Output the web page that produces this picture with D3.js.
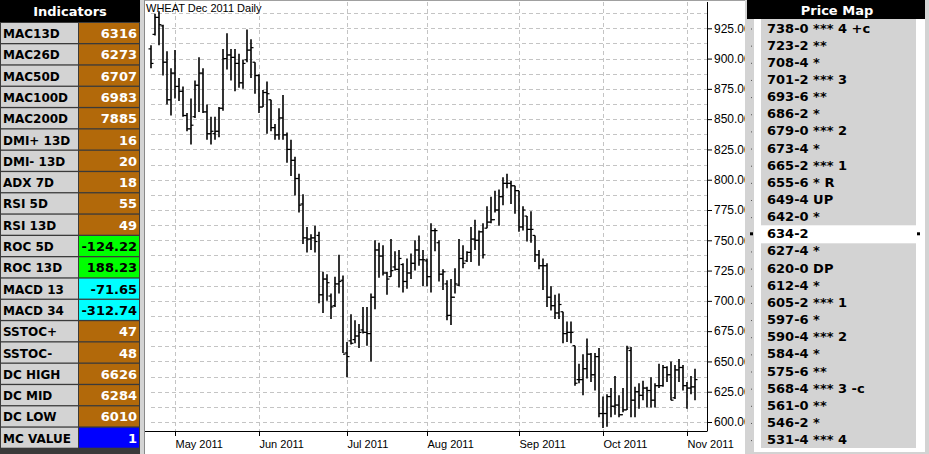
<!DOCTYPE html>
<html lang="en">
<head>
  <meta charset="UTF-8">
  <title>WHEAT Dec 2011 Daily</title>
  <style type="text/css">
    body{
      margin: 0;
      background: #fff;
    }
    svg{
      display: block;
      font-family: "DejaVu Sans", Verdana, sans-serif;
    }
    .ind-label{
      font-size: 12px;
      font-weight: bold;
      fill: #000;
    }
    .ind-value{
      font-size: 13px;
      font-weight: bold;
      text-anchor: end;
    }
    .pm text{
      font-size: 13px;
      font-weight: bold;
      fill: #000;
    }
    .head{
      font-size: 13px;
      font-weight: bold;
      fill: #fff;
      text-anchor: middle;
    }
    .axis text{
      font-family: "Liberation Sans", Arial, sans-serif;
      fill: #000;
    }
    .axis line{
      stroke: #000;
    }
    .grid line{
      stroke: #c4c4c4;
      stroke-dasharray: 4,3;
    }
    .bar line{
      stroke: #000;
    }
  </style>
  <script type="text/javascript" src="https://cdn.jsdelivr.net/npm/d3@7"></script>
</head>
<body>
<script type="text/javascript">
  // daily bars, one per trading day from 21 Apr to 3 Nov 2011
  var highs = [911,937,939,928,906,892,907,884,877,855,867,882,901,892,862,852,852,860,908,921,
               908,908,904,899,924,916,897,887,874,881,866,846,859,870,839,833,819,805,788,761,
               755,762,757,724,722,706,720,738,721,666,689,684,681,695,695,706,750,748,746,724,
               751,741,742,731,735,739,750,754,742,735,764,760,750,726,717,718,727,751,746,741,
               761,767,758,764,778,786,791,792,802,805,799,795,791,778,770,774,754,742,735,731,
               712,705,706,691,683,683,663,648,656,669,657,657,661,621,623,628,638,622,628,663,
               662,629,632,634,629,637,632,648,647,646,650,647,652,647,633,638,644];
  var lows  = [892,919,911,886,862,853,867,865,852,840,829,851,856,855,833,829,833,835,857,891,
               882,873,876,875,897,884,871,855,860,838,840,833,833,833,814,803,787,773,747,740,
               742,740,698,690,700,685,695,706,657,637,664,665,661,673,663,650,693,719,721,705,
               720,725,711,707,710,718,725,729,712,712,707,741,716,709,684,680,706,712,727,732,
               732,742,729,735,760,764,773,762,779,793,780,772,757,758,749,748,732,726,709,695,
               692,685,685,665,666,665,630,632,622,636,633,626,604,595,596,604,606,604,608,610,
               604,604,611,618,612,612,612,628,629,633,618,619,633,626,611,623,618];
  var opens = [908,920,934,927,897,866,888,877,873,853,842,852,878,888,856,838,838,840,859,900,
               903,901,896,880,899,907,897,886,860,872,866,843,837,851,837,825,816,801,780,752,
               751,752,754,705,718,704,696,714,717,657,667,668,671,676,674,673,703,742,737,723,
               720,728,726,730,716,723,731,742,734,733,720,758,748,722,714,688,703,713,735,733,
               740,751,750,757,760,765,767,775,786,797,797,795,791,761,770,759,754,738,729,729,
               703,696,690,691,673,674,663,635,635,644,656,639,654,607,607,621,613,614,606,610,
               659,618,625,622,628,626,618,630,630,645,639,620,643,645,630,628,629];
  var closes = [896,934,928,897,866,888,877,873,853,842,845,878,888,856,838,840,840,859,900,903,
                901,896,880,896,907,909,886,860,872,871,843,837,851,837,825,816,801,779,752,751,
                752,749,705,718,715,695,714,716,656,654,665,671,674,674,673,703,742,737,723,718,
                725,726,735,716,723,731,742,734,734,720,758,758,722,724,688,703,714,735,731,740,
                751,750,757,738,765,767,775,786,797,797,795,791,761,775,759,759,738,729,729,703,
                696,690,697,673,674,674,632,635,644,656,639,654,607,607,621,613,614,606,610,661,
                618,625,622,628,626,618,630,630,645,639,618,643,645,630,628,629,635];

  var holidays = ['2011-04-22', '2011-05-30', '2011-07-04', '2011-09-05'];
  var yTicks = [600, 625, 650, 675, 700, 725, 750, 775, 800, 825, 850, 875, 900, 925];

  var indLabels = ['MAC13D','MAC26D','MAC50D','MAC100D','MAC200D','DMI+ 13D','DMI- 13D','ADX 7D',
                   'RSI 5D','RSI 13D','ROC 5D','ROC 13D','MACD 13','MACD 34','SSTOC+','SSTOC-',
                   'DC HIGH','DC MID','DC LOW','MC VALUE'];
  var indValues = ['6316','6273','6707','6983','7885','16','20','18','55','49','-124.22','188.23',
                   '-71.65','-312.74','47','48','6626','6284','6010','1'];
  var indKinds  = ['avg','avg','avg','avg','avg','avg','avg','avg','avg','avg','roc','roc',
                   'macd','macd','avg','avg','avg','avg','avg','mc'];

  var priceMap = ['738-0 *** 4 +c','723-2 **','708-4 *','701-2 *** 3','693-6 **','686-2 *',
                  '679-0 *** 2','673-4 *','665-2 *** 1','655-6 * R','649-4 UP','642-0 *','634-2',
                  '627-4 *','620-0 DP','612-4 *','605-2 *** 1','597-6 *','590-4 *** 2','584-4 *',
                  '575-6 **','568-4 *** 3 -c','561-0 **','546-2 *','531-4 *** 4'];
  var lastPrice = '634-2';

  var kindStyle = {
    avg:  {fill: '#b2690a', text: '#fff'},
    roc:  {fill: '#00ff00', text: '#000'},
    macd: {fill: '#00ffff', text: '#000'},
    mc:   {fill: '#0000ff', text: '#fff'}
  };

  var W = 929, H = 454;

  var svg = d3.select('body')
    .append('svg')
    .attr('width', W)
    .attr('height', H);

  // ---- chart ----
  var parse = d3.timeParse('%Y-%m-%d');
  var fmtDay = d3.timeFormat('%Y-%m-%d');
  var dates = d3.timeDay.range(parse('2011-04-21'), parse('2011-11-04'))
    .filter(function(d){
      return d.getDay() !== 0 && d.getDay() !== 6 && holidays.indexOf(fmtDay(d)) < 0;
    });

  var xScale = d3.scalePoint()
    .domain(dates)
    .range([151, 695]);

  var yScale = d3.scaleLinear()
    .domain([600, 925])
    .range([422, 28.3]);

  var monthStarts = dates.filter(function(d, i){
    return i > 0 && d.getMonth() !== dates[i - 1].getMonth();
  });

  var plotLeft = 145, axisX = 707, axisY = 431;

  svg.append('rect')
    .attr('x', plotLeft).attr('y', 0)
    .attr('width', 745 - plotLeft).attr('height', H)
    .attr('fill', '#fff');

  svg.append('line')
    .attr('x1', plotLeft).attr('x2', 745)
    .attr('y1', 0.5).attr('y2', 0.5)
    .attr('stroke', '#a0a0a0');

  var gridLevels = d3.range(600, 938, 12.5);

  var grid = svg.append('g').attr('class', 'grid');
  grid.selectAll('.hg')
    .data(gridLevels)
    .enter().append('line')
    .attr('x1', 151).attr('x2', axisX)
    .attr('y1', function(d){ return Math.round(yScale(d)) + 0.5; })
    .attr('y2', function(d){ return Math.round(yScale(d)) + 0.5; });
  grid.selectAll('.vg')
    .data(monthStarts)
    .enter().append('line')
    .attr('x1', function(d){ return Math.round(xScale(d)) + 0.5; })
    .attr('x2', function(d){ return Math.round(xScale(d)) + 0.5; })
    .attr('y1', 2).attr('y2', axisY);

  var bar = svg.selectAll('.bar')
    .data(dates)
    .enter().append('g')
    .attr('class', 'bar');

  bar.append('line')
    .attr('x1', function(d){ return xScale(d); })
    .attr('x2', function(d){ return xScale(d); })
    .attr('y1', function(d, i){ return yScale(highs[i]); })
    .attr('y2', function(d, i){ return yScale(lows[i]); })
    .attr('stroke-width', 1.6);

  bar.append('line')
    .attr('x1', function(d){ return xScale(d) - 2.5; })
    .attr('x2', function(d){ return xScale(d); })
    .attr('y1', function(d, i){ return yScale(opens[i]); })
    .attr('y2', function(d, i){ return yScale(opens[i]); })
    .attr('stroke-width', 1.2);

  bar.append('line')
    .attr('x1', function(d){ return xScale(d); })
    .attr('x2', function(d){ return xScale(d) + 2.5; })
    .attr('y1', function(d, i){ return yScale(closes[i]); })
    .attr('y2', function(d, i){ return yScale(closes[i]); })
    .attr('stroke-width', 1.2);

  var xAxis = d3.axisBottom(xScale)
    .tickValues(monthStarts)
    .tickSize(5)
    .tickFormat(d3.timeFormat('%b %Y'));

  var gx = svg.append('g')
    .attr('class', 'x axis')
    .attr('transform', 'translate(0,' + axisY + ')')
    .call(xAxis);
  gx.select('.domain').remove();
  gx.selectAll('text')
    .attr('text-anchor', 'start')
    .attr('x', 0)
    .attr('y', 9)
    .style('font-size', '11px');
  gx.append('line')
    .attr('x1', plotLeft).attr('x2', axisX + 0.5)
    .attr('y1', 0.5).attr('y2', 0.5);

  var yAxis = d3.axisRight(yScale)
    .tickValues(yTicks)
    .tickSize(5)
    .tickFormat(d3.format('.2f'));

  var gy = svg.append('g')
    .attr('class', 'y axis')
    .attr('transform', 'translate(' + axisX + ',0)')
    .call(yAxis);
  gy.select('.domain').remove();
  gy.selectAll('text')
    .attr('x', 7)
    .style('font-size', '12px');
  gy.append('line')
    .attr('x1', 0.5).attr('x2', 0.5)
    .attr('y1', 2).attr('y2', axisY);

  svg.append('text')
    .attr('x', 146)
    .attr('y', 12)
    .style('font-family', '"Liberation Sans", Arial, sans-serif')
    .style('font-size', '11px')
    .text('WHEAT Dec 2011 Daily');

  // ---- indicators panel ----
  var rowTop = 23, rowStep = 21.3;

  svg.append('rect')
    .attr('x', 0).attr('y', 0)
    .attr('width', 140).attr('height', H)
    .attr('fill', '#3a3a3a');
  svg.append('rect')
    .attr('x', 140).attr('y', 0)
    .attr('width', 4).attr('height', H)
    .attr('fill', '#d4d4d4');
  svg.append('line')
    .attr('x1', 144.5).attr('x2', 144.5)
    .attr('y1', 0).attr('y2', H)
    .attr('stroke', '#8a8a8a');

  svg.append('rect')
    .attr('x', 0).attr('y', 0)
    .attr('width', 140).attr('height', 22)
    .attr('fill', '#000');
  svg.append('text')
    .attr('class', 'head')
    .attr('x', 70).attr('y', 16)
    .text('Indicators');

  var row = svg.selectAll('.ind')
    .data(indLabels)
    .enter().append('g')
    .attr('class', 'ind')
    .attr('transform', function(d, i){ return 'translate(0,' + (rowTop + i * rowStep) + ')'; });

  row.append('rect')
    .attr('x', 1).attr('y', 0)
    .attr('width', 77).attr('height', 20)
    .attr('fill', '#d3d3d3');

  row.append('rect')
    .attr('x', 79).attr('y', 0)
    .attr('width', 60).attr('height', 20)
    .attr('fill', function(d, i){ return kindStyle[indKinds[i]].fill; });

  row.append('text')
    .attr('class', 'ind-label')
    .attr('x', 3).attr('y', 15)
    .text(function(d){ return d; });

  row.append('text')
    .attr('class', 'ind-value')
    .attr('x', 137).attr('y', 15)
    .style('fill', function(d, i){ return kindStyle[indKinds[i]].text; })
    .text(function(d, i){ return indValues[i]; });

  // ---- price map panel ----
  var pmTop = 32.5, pmStep = 17.15;
  var cur = priceMap.indexOf(lastPrice);

  svg.append('rect')
    .attr('x', 745).attr('y', 0)
    .attr('width', W - 745).attr('height', H)
    .attr('fill', '#d3d3d3');
  svg.append('rect')
    .attr('x', 754).attr('y', 19)
    .attr('width', 171).attr('height', 433)
    .attr('fill', '#fff');
  svg.append('rect')
    .attr('x', 761).attr('y', 19)
    .attr('width', 155).attr('height', pmTop + cur * pmStep - 13 - 19)
    .attr('fill', '#d3d3d3');
  svg.append('rect')
    .attr('x', 761).attr('y', pmTop + cur * pmStep + 5)
    .attr('width', 155).attr('height', 448 - (pmTop + cur * pmStep + 5))
    .attr('fill', '#d3d3d3');

  svg.append('rect')
    .attr('x', 747).attr('y', 0)
    .attr('width', 178).attr('height', 19)
    .attr('fill', '#000');
  svg.append('text')
    .attr('class', 'head')
    .attr('x', 837).attr('y', 15)
    .text('Price Map');

  var pm = svg.append('g').attr('class', 'pm');

  pm.selectAll('.dot')
    .data(priceMap)
    .enter().append('rect')
    .attr('x', function(d){ return d === lastPrice ? 750 : 751; })
    .attr('y', function(d, i){ return pmTop + i * pmStep - (d === lastPrice ? 6 : 4); })
    .attr('width', function(d){ return d === lastPrice ? 3 : 1; })
    .attr('height', function(d){ return d === lastPrice ? 3 : 1; })
    .attr('fill', function(d){ return d === lastPrice ? '#000' : '#555'; });

  pm.append('rect')
    .attr('x', 917).attr('y', pmTop + cur * pmStep - 6)
    .attr('width', 3).attr('height', 3)
    .attr('fill', '#000');

  pm.selectAll('text')
    .data(priceMap)
    .enter().append('text')
    .attr('x', 767)
    .attr('y', function(d, i){ return pmTop + i * pmStep; })
    .text(function(d){ return d; });
</script>
</body>
</html>
